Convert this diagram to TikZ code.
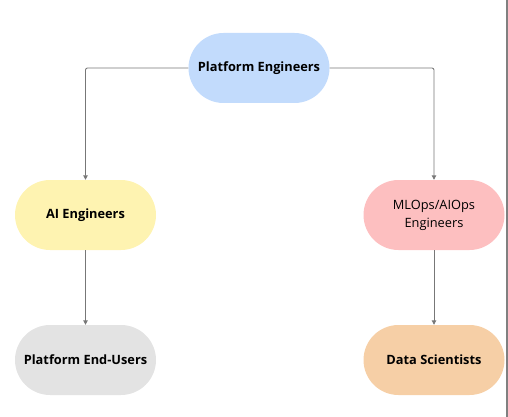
\documentclass[tikz,border=0pt]{standalone}
\usepackage{fontspec}
\setmainfont{Open Sans}
\usetikzlibrary{arrows.meta}
\definecolor{cblue}{HTML}{C2DBFC}
\definecolor{cyellow}{HTML}{FEF3B1}
\definecolor{cpink}{HTML}{FDBFC0}
\definecolor{cgray}{HTML}{E3E3E3}
\definecolor{corange}{HTML}{F6CFA6}
\definecolor{cline}{HTML}{777777}
\begin{document}
\begin{tikzpicture}[x=1pt,y=-1pt,>={Triangle[length=4.5pt,width=4.5pt]}, font=\fontsize{12.8}{18}\selectfont, line join=round,
	pill/.style={minimum width=141pt,minimum height=70pt,rounded corners=35pt,align=center,inner sep=0pt},
	bold/.style={font=\fontsize{12.8}{18}\selectfont\bfseries},
	link/.style={->,draw=cline,line width=0.9pt,rounded corners=2pt}]
	\useasboundingbox (0,0) rectangle (508,417);
	\draw[color=gray,line width=2pt] (507,0)--(507,417);
	
	\node[pill,bold,fill=cblue] (pe) at (259,68) {Platform Engineers};
	\node[pill,bold,fill=cyellow] (ai) at (85.5,215) {AI Engineers};
	\node[pill,fill=cpink] (ml) at (434,215) {MLOps/AIOps\\Engineers};
	\node[pill,bold,fill=cgray] (eu) at (85.5,360) {Platform End-Users};
	\node[pill,bold,fill=corange] (ds) at (434,360) {Data Scientists};
	
	\draw[link] (pe.west) -| (ai.north);
	\draw[link] (pe.east) -| (ml.north);
	\draw[link] (ai.south)--(eu.north);
	\draw[link] (ml.south)--(ds.north);
\end{tikzpicture}
\end{document}
